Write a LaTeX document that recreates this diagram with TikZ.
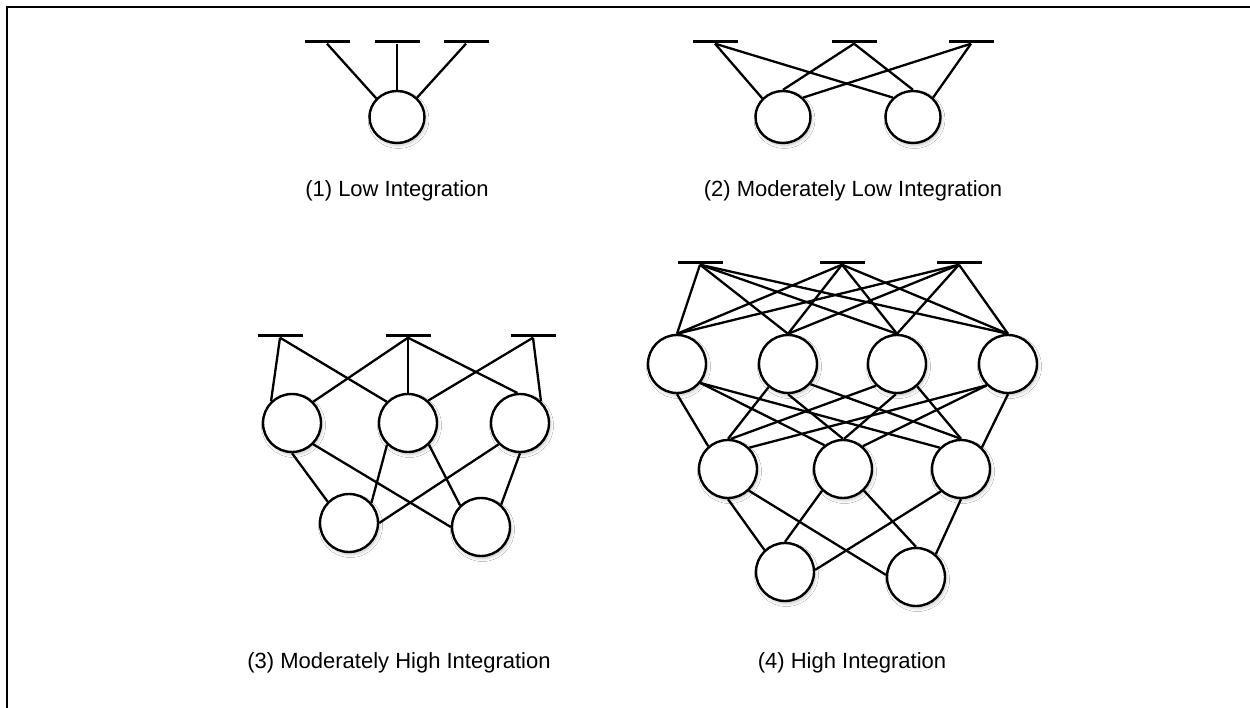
\documentclass[tikz,border=0pt]{standalone}
\usepackage{fontspec}
\setmainfont{Liberation Sans}
\usetikzlibrary{shapes.geometric,shadows.blur}
\begin{document}
\begin{tikzpicture}[x=1pt,y=-1pt,
  unit/.style={circle,draw,line width=2.4pt,minimum size=58pt,inner sep=0pt,fill=white,
    blur shadow={shadow xshift=1.5pt,shadow yshift=-2.5pt,shadow blur radius=3pt,shadow opacity=22}},
  smallunit/.style={unit,ellipse,minimum width=55pt,minimum height=52pt},
  bar/.style={rectangle,fill=black,minimum width=45pt,minimum height=3pt,inner sep=0pt},
  link/.style={line width=2.3pt},
  caption/.style={anchor=base,font=\fontsize{22}{26}\selectfont}]

% canvas and frame
\fill[white] (0,0) rectangle (1250,708);
\useasboundingbox (0,0) rectangle (1250,708);
\draw[line width=2.2pt] (7,708) -- (7,7) -- (1250,7);

% ---------- (1) Low Integration ----------
\node[bar] (a1) at (327,42) {};
\node[bar] (a2) at (397,42) {};
\node[bar] (a3) at (466,42) {};
\node[smallunit] (ac) at (397,117) {};
\draw[link] (a1.south) -- (ac.138);
\draw[link] (a2.south) -- (ac.90);
\draw[link] (a3.south) -- (ac.44);
\node[caption] (acap) at (397,197) {(1) Low Integration};

% ---------- (2) Moderately Low Integration ----------
\node[bar] (b1) at (715,42) {};
\node[bar] (b2) at (854,42) {};
\node[bar] (b3) at (971,42) {};
\node[smallunit] (bc1) at (783,117) {};
\node[smallunit] (bc2) at (913,117) {};
\draw[link] (b1.south) -- (bc1.138);
\draw[link] (b1.south) -- (bc2.136);
\draw[link] (b2.south) -- (bc1.90);
\draw[link] (b2.south) -- (bc2.90);
\draw[link] (b3.south) -- (bc1.44);
\draw[link] (b3.south) -- (bc2.44);
\node[caption] (bcap) at (853,197) {(2) Moderately Low Integration};

% ---------- (3) Moderately High Integration ----------
\node[bar] (c1) at (280,336) {};
\node[bar] (c2) at (408,336) {};
\node[bar] (c3) at (533,336) {};
\node[unit] (cm1) at (292,423) {};
\node[unit] (cm2) at (408,423) {};
\node[unit] (cm3) at (520,423) {};
\node[unit] (cb1) at (349,523) {};
\node[unit] (cb2) at (481,527) {};
\draw[link] (c1.south) -- (cm1.134);
\draw[link] (c1.south) -- (cm2.135);
\draw[link] (c2.south) -- (cm1.45);
\draw[link] (c2.south) -- (cm2.90);
\draw[link] (c2.south) -- (cm3.95);
\draw[link] (c3.south) -- (cm2.48);
\draw[link] (c3.south) -- (cm3.46);
\draw[link] (cm1.-90)  -- (cb1.135);
\draw[link] (cm1.-45)  -- (cb2.180);
\draw[link] (cm2.-134) -- (cb1.42);
\draw[link] (cm2.-46)  -- (cb2.134);
\draw[link] (cm3.-135) -- (cb1.0);
\draw[link] (cm3.-90)  -- (cb2.48);
\node[caption] (ccap) at (399,668) {(3) Moderately High Integration};

% ---------- (4) High Integration ----------
\node[bar] (d1) at (700,263) {};
\node[bar] (d2) at (842,263) {};
\node[bar] (d3) at (959,263) {};
\node[unit] (dA1) at (677,364) {};
\node[unit] (dA2) at (788,364) {};
\node[unit] (dA3) at (897,364) {};
\node[unit] (dA4) at (1008,364) {};
\node[unit] (dB1) at (728,469) {};
\node[unit] (dB2) at (843,469) {};
\node[unit] (dB3) at (961,469) {};
\node[unit] (dC1) at (785,572) {};
\node[unit] (dC2) at (916,577) {};
\foreach \t in {d1,d2,d3}
  \foreach \u in {dA1,dA2,dA3,dA4}
    \draw[link] (\t.south) -- (\u.north);
\draw[link] (dA1.-90)  -- (dB1.131);
\draw[link] (dA1.-39)  -- (dB2.128);
\draw[link] (dA1.-39)  -- (dB3.135);
\draw[link] (dA2.-130) -- (dB1.90);
\draw[link] (dA2.-90)  -- (dB2.90);
\draw[link] (dA2.-42)  -- (dB3.90);
\draw[link] (dA3.-134) -- (dB1.85);
\draw[link] (dA3.-92)  -- (dB2.88);
\draw[link] (dA3.-48)  -- (dB3.90);
\draw[link] (dA4.-135) -- (dB1.45);
\draw[link] (dA4.-135) -- (dB2.49);
\draw[link] (dA4.-90)  -- (dB3.46);
\draw[link] (dB1.-90)  -- (dC1.133);
\draw[link] (dB1.-46)  -- (dC2.176);
\draw[link] (dB2.-134) -- (dC1.90);
\draw[link] (dB2.-46)  -- (dC2.90);
\draw[link] (dB3.-132) -- (dC1.4);
\draw[link] (dB3.-90)  -- (dC2.49);
\node[caption] (dcap) at (852,668) {(4) High Integration};
\end{tikzpicture}
\end{document}
